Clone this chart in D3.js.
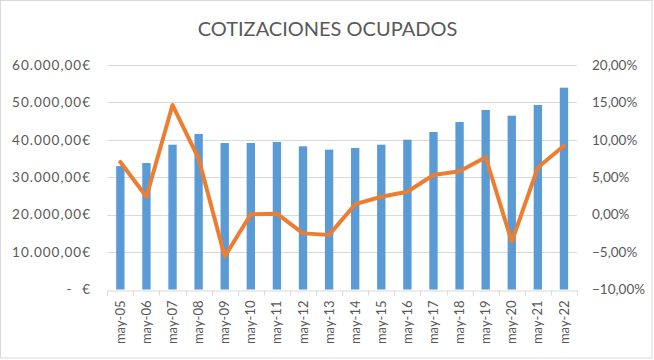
<!DOCTYPE html>
<html><head><meta charset="utf-8">
<script src="https://cdn.jsdelivr.net/npm/d3@7"></script>
<style>
html,body{margin:0;padding:0;background:#fff;}
svg{display:block;}
text{font-family:Lato,"Open Sans",sans-serif;fill:#595959;}
</style></head>
<body>
<svg id="c" width="654" height="360"></svg>
<script>
const title = "COTIZACIONES OCUPADOS";
const categories = ["may-05","may-06","may-07","may-08","may-09","may-10","may-11","may-12","may-13","may-14","may-15","may-16","may-17","may-18","may-19","may-20","may-21","may-22"];
const cotizaciones = [33000,33800,38700,41560,39150,39150,39420,38270,37380,37820,38700,40040,42100,44770,47970,46450,49310,53930];
const variacion = [0.0704,0.024,0.1465,0.075,-0.056,0.0005,0.0013,-0.025,-0.027,0.014,0.024,0.0307,0.053,0.058,0.0767,-0.036,0.063,0.092];
const leftTicks = [0,10000,20000,30000,40000,50000,60000];
const rightTicks = [-0.10,-0.05,0,0.05,0.10,0.15,0.20];

const svg = d3.select("#c");
const W = 654, H = 360;
const m = {left:107.3, right:577, top:65, bottom:289.5};

svg.append("rect").attr("x",0.5).attr("y",0.5).attr("width",W-2.5).attr("height",H-2.5)
  .attr("fill","#fff").attr("stroke","#d9d9d9").attr("stroke-width",1);

const x = d3.scaleBand().domain(categories).range([m.left,m.right]).paddingInner(0.68).paddingOuter(0.34);
const xs = d3.scaleBand().domain(categories).range([m.left,m.right]).padding(0);
const yL = d3.scaleLinear().domain([0,60000]).range([m.bottom,m.top]);
const yR = d3.scaleLinear().domain([-0.10,0.20]).range([m.bottom,m.top]);

// gridlines
svg.append("g").selectAll("line").data(leftTicks.slice(1)).join("line")
  .attr("x1",m.left).attr("x2",m.right)
  .attr("y1",d=>Math.round(yL(d))+0.5).attr("y2",d=>Math.round(yL(d))+0.5)
  .attr("stroke","#d9d9d9").attr("stroke-width",1);

// bars
svg.append("g").selectAll("rect").data(categories).join("rect")
  .attr("x",d=>x(d)).attr("width",x.bandwidth())
  .attr("y",(d,i)=>yL(cotizaciones[i])).attr("height",(d,i)=>yL(0)-yL(cotizaciones[i]))
  .attr("fill","#5b9bd5");

// x axis
const xAxis = d3.axisBottom(xs).tickSize(0).tickFormat(d=>d);
const gx = svg.append("g").attr("transform",`translate(0,${Math.round(m.bottom)+0.5})`).call(xAxis);
gx.select(".domain").attr("stroke","#d9d9d9");
gx.selectAll(".tick text").attr("transform","rotate(-90)").attr("text-anchor","end")
  .attr("x",-10).attr("y",0).attr("dy","0.35em").attr("font-size","13px").attr("fill","#595959");
// category boundary ticks
const bounds = categories.map(c=>xs(c)).concat([m.right]);
svg.append("g").selectAll("line").data(bounds).join("line")
  .attr("x1",d=>Math.round(d)+0.5).attr("x2",d=>Math.round(d)+0.5)
  .attr("y1",Math.round(m.bottom)+0.5).attr("y2",Math.round(m.bottom)+5.5)
  .attr("stroke","#d9d9d9");

// left axis
const fmtE = d=>{
  const s = d3.format(",.2f")(d);
  return s.replace(/,/g,"#").replace(/\./g,",").replace(/#/g,".")+"€";
};
const yAxisL = d3.axisLeft(yL).tickValues(leftTicks).tickSize(0).tickFormat(d=> d===0 ? "€" : fmtE(d));
const gl = svg.append("g").attr("transform","translate(91,0)").call(yAxisL);
gl.select(".domain").remove();
gl.selectAll(".tick text").attr("x",0).attr("font-size","13.5px").attr("letter-spacing","1px").attr("fill","#595959");
gl.append("text").attr("x",-22).attr("y",yL(0)).attr("dy","0.32em").attr("text-anchor","middle")
  .attr("font-size","13.5px").text("-");

// right axis
const fmtP = d=> d3.format(".2f")(d*100).replace(".",",")+"%";
const yAxisR = d3.axisRight(yR).tickValues(rightTicks).tickSize(0).tickFormat(fmtP);
const gr = svg.append("g").attr("transform","translate(592,0)").call(yAxisR);
gr.select(".domain").remove();
gr.selectAll(".tick text").attr("x",0).attr("font-size","13.5px").attr("fill","#595959");

// line
const line = d3.line().x((d,i)=>xs(categories[i])+xs.bandwidth()/2).y(d=>yR(d));
svg.append("path").datum(variacion).attr("d",line).attr("fill","none")
  .attr("stroke","#ed7d31").attr("stroke-width",4).attr("stroke-linejoin","round").attr("stroke-linecap","round");

// title
svg.append("text").attr("x",327.5).attr("y",36).attr("text-anchor","middle")
  .attr("font-size","20px").attr("fill","#595959").text(title);

svg.selectAll(".tick text").attr("font-family","Lato, 'Open Sans', sans-serif");
</script>
</body></html>
